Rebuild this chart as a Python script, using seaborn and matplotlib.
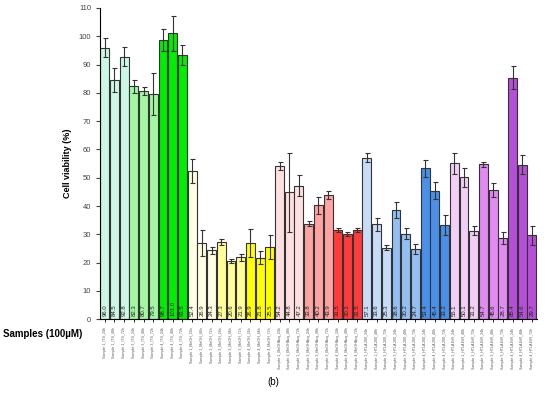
import matplotlib
matplotlib.use("Agg")
import matplotlib.pyplot as plt
import pandas as pd
import seaborn as sns

# bar labels, grouped by extract: 3 samples x 3 times
extracts = ["ITS", "MeOH", "MeOHAcq", "HTLA 200", "HTLA EtR"]
samples = ["Sample 1", "Sample 3", "Sample 4"]
times = ["24h", "48h", "72h"]
labels = [f"{s}_{e}_{t}" for e in extracts for s in samples for t in times]

viability = [96.0, 84.5, 92.8, 82.3, 80.7, 79.5, 98.7, 101.0, 93.5,
             52.4, 26.9, 24.3, 27.3, 20.6, 21.9, 26.9, 21.8, 25.5,
             54.2, 44.8, 47.2, 33.8, 40.2, 43.9, 31.5, 30.1, 31.5,
             57.1, 33.6, 25.3, 38.6, 30.2, 24.7, 53.4, 45.4, 33.2,
             55.1, 50.1, 31.2, 54.7, 45.6, 28.7, 85.4, 54.6, 29.7]

errors = [3.2, 4.3, 3.4, 2.2, 1.3, 7.5, 3.8, 6.3, 3.5,
          4.3, 4.5, 1.2, 1.0, 0.8, 1.2, 4.8, 2.2, 4.2,
          1.3, 14.0, 3.7, 0.8, 3.0, 1.3, 0.6, 0.8, 0.8,
          1.5, 2.3, 0.9, 2.7, 1.9, 1.7, 3.0, 3.0, 3.6,
          3.8, 3.3, 1.6, 1.0, 2.5, 2.0, 4.2, 3.3, 3.4]

# one shade per sample within each extract
shades = [["#ccf7e6", "#a3f7a3", "#00ee00"],
          ["#fffde3", "#ffff99", "#ffff00"],
          ["#ffe0e0", "#ffa3a3", "#ff3b3b"],
          ["#c8dcf7", "#93bff2", "#4a90e8"],
          ["#f2d0f5", "#e08af2", "#b64fd8"]]
colors = [shades[i // 9][(i % 9) // 3] for i in range(len(labels))]

df = pd.DataFrame({"label": labels, "viability": viability})

plt.rcParams["font.family"] = ["Liberation Sans", "DejaVu Sans"]
fig = plt.figure(figsize=(5.5, 3.97), dpi=100)
ax = fig.add_axes([0.182, 0.196, 0.794, 0.784])

sns.barplot(data=df, x="label", y="viability", hue="label", palette=colors,
            legend=False, width=0.92, saturation=1, edgecolor="#333333",
            linewidth=0.8, errorbar=None, ax=ax)
ax.errorbar(range(len(labels)), viability, yerr=errors, fmt="none",
            ecolor="#333333", elinewidth=0.8, capsize=1.8, capthick=0.8)

for i, v in enumerate(viability):
    ax.text(i, 1.3, f"{v:.1f}", rotation=90, ha="center", va="bottom",
            fontsize=4.3, color="#222222")

ax.set_ylim(0, 110)
ax.set_xlim(-0.48, len(labels) - 0.5)
ax.set_yticks(range(0, 111, 10))
ax.tick_params(axis="y", labelsize=5.5, length=3, width=0.8, colors="#444444")
ax.tick_params(axis="x", labelsize=2.6, length=2.5, width=0.6, rotation=90,
               labelcolor="#555555")
ax.set_xlabel("")
ax.set_ylabel("Cell viability (%)", fontsize=6.5, fontweight="bold", labelpad=5)
for side in ["top", "right"]:
    ax.spines[side].set_visible(False)
ax.spines["left"].set_linewidth(0.8)
ax.spines["bottom"].set_linewidth(0.8)

fig.text(0.005, 0.159, "Samples (100\u00b5M)", fontsize=7, fontweight="bold",
         va="center")
fig.text(0.497, 0.038, "(b)", fontsize=7, ha="center", va="center")

fig.savefig("out.png", dpi=100)
